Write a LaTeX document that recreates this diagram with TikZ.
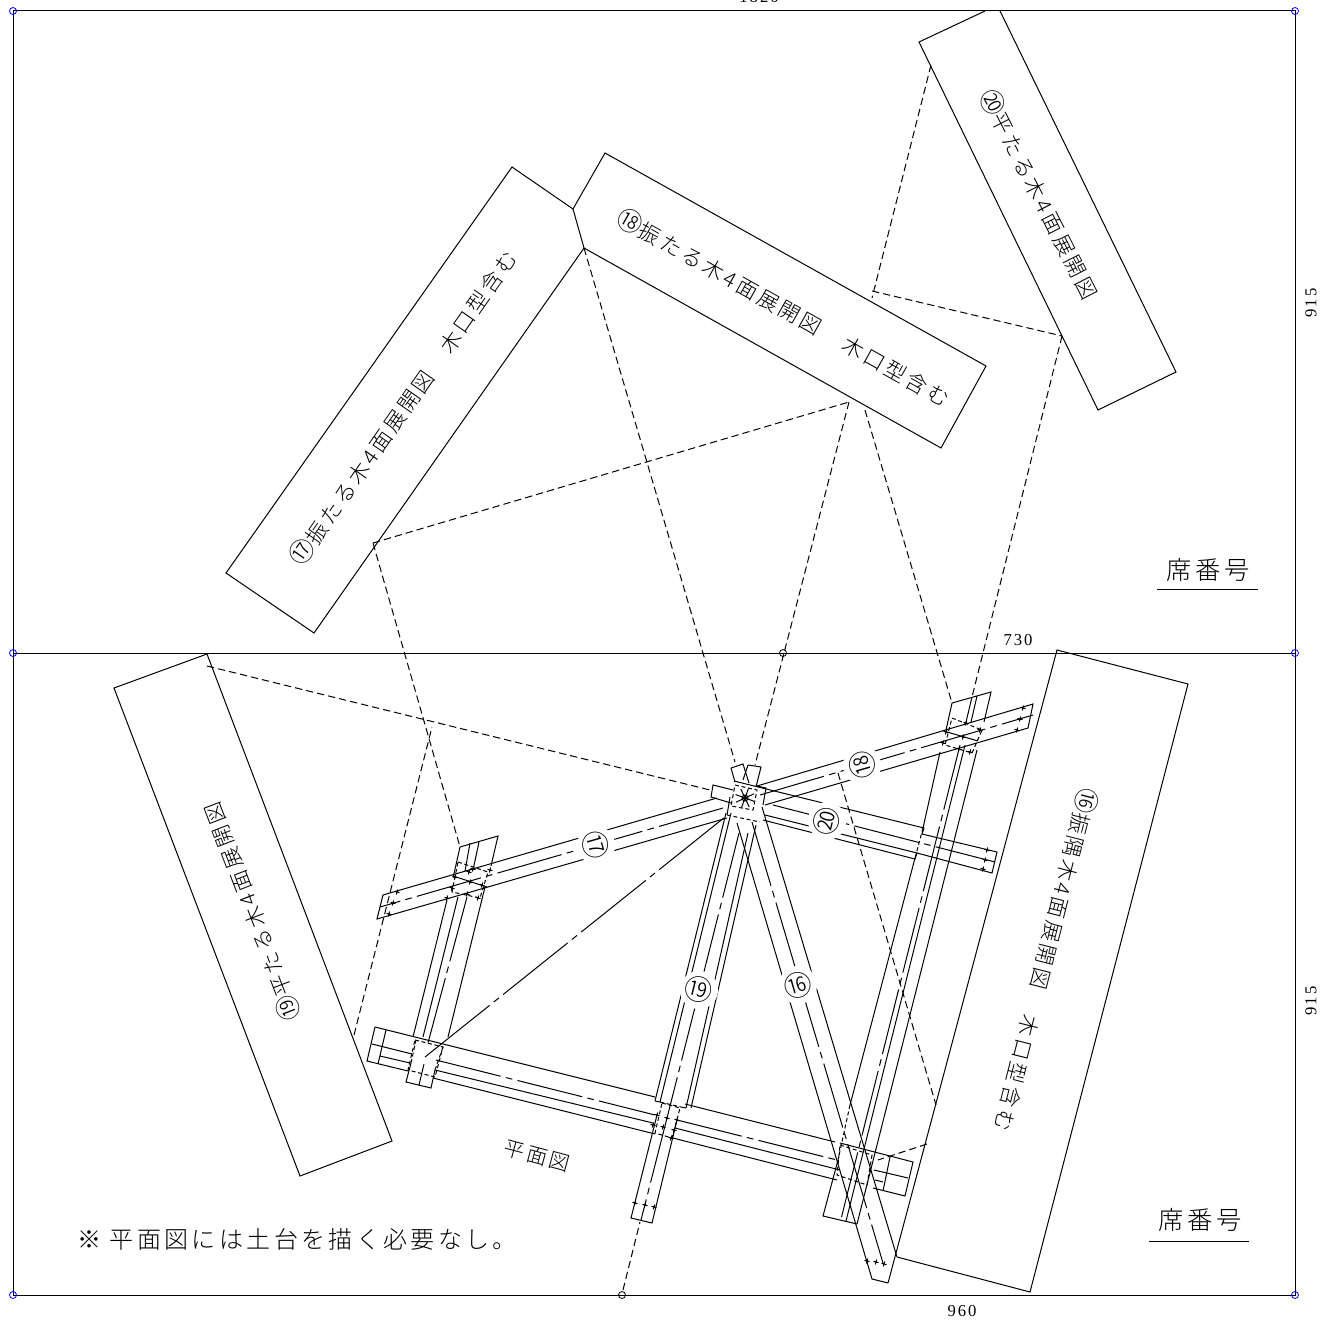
\documentclass[tikz,border=0pt]{standalone}
\usepackage{fontspec}
\newfontfamily\jpwide[LetterSpace=14]{Noto Sans CJK JP Light}
\newfontfamily\jpplain{Noto Sans CJK JP Light}
\newfontfamily\numfont[LetterSpace=12]{Liberation Serif}
\newcommand\cnum[1]{{\fontsize{19}{19}\selectfont #1}}
\tikzset{
 ln/.style={line width=.75pt,black},
 hid/.style={ln,dash pattern=on 3pt off 2pt},
 dd/.style={ln,dash pattern=on 5.5pt off 3pt},
 ctr/.style={ln,dash pattern=on 50pt off 4pt on 5pt off 4pt},
 panel/.style={ln,line join=miter},
 tag/.style={circle,fill=white,inner sep=0pt,minimum size=17pt,font=\jpplain\fontsize{21}{21}\selectfont},
 ptext/.style={inner sep=0pt,font=\jpwide\fontsize{16}{18}\selectfont},
 dim/.style={inner sep=0pt,font=\numfont\fontsize{12.5}{14}\selectfont},
 blue mark/.style={draw=blue,line width=.6pt,fill=none},
 blk mark/.style={draw=black,line width=.6pt,fill=none},
}
\begin{document}
\begin{tikzpicture}[x=.75pt,y=-.75pt]
\useasboundingbox (0,0) rectangle (1321,1323);
\clip (0,0) rectangle (1321,1323);
% frame
\draw[ln] (13,11) rectangle (1295,1295);
\draw[ln] (13,653) -- (1295,653);
\foreach \p in {(13,11),(1295,11),(13,653),(1295,653),(13,1295),(1295,1295)} \draw[blue mark] \p circle (3.5);
\draw[blk mark] (783,653) circle (3.5);
\draw[blk mark] (622,1295) circle (3.5);
% panels
\draw[panel] (985,11) -- (919,42) -- (1098,410) -- (1176,372) -- (1000,11);
\draw[panel] (573,209) -- (605,153) -- (986,366) -- (941,448) -- (584,248) -- cycle;
\draw[panel] (573,209) -- (512,167) -- (226,573) -- (314,633) -- (584,248);
\draw[panel] (114,688) -- (207,654) -- (392,1141) -- (300,1176) -- cycle;
\draw[panel] (888,1283) -- (1057,650) -- (1188,684) -- (1030,1292) -- (897,1257);
% dashed projection lines
\draw[dd] (931,65) -- (872,298);
\draw[dd] (872,291) -- (1062,336);
\draw[dd] (1062,336) -- (972,697);
\draw[dd] (865,410) -- (952,703);
\draw[dd] (849,402) -- (755,765);
\draw[dd] (584,248) -- (735,762);
\draw[dd] (373,543) -- (849,402);
\draw[dd] (373,543) -- (460,847);
\draw[dd] (207,666) -- (710,790);
\draw[dd] (354,1035) -- (432,727);
\draw[dd] (838,773) -- (936,1105);
\draw[dd] (927,1144) -- (878,1160);
\draw[dd] (623,1290) -- (640,1222);
\draw[ctr,dash pattern=on 62pt off 4pt on 5pt off 4pt] (425,1057) -- (725,817);
% beam 19
\draw[ln] (726,813) -- (655,1101);
\draw[ln] (731,813) -- (660,1102);
\draw[ctr] (739,833) -- (667,1118);
\draw[ln] (748,833) -- (686,1108);
\draw[ln] (756,825) -- (691,1108);
\draw[ln] (655,1101) -- (660,1102) (681,1107) -- (686,1108);
\draw[hid] (660,1102) -- (681,1107);
\draw[ln] (657,1115) -- (631,1218) -- (652,1223) -- (677,1120);
\draw[ctr] (667,1118) -- (641,1220);
% wall (front beam)
\draw[ln] (375,1027) -- (655,1097) (685,1104) -- (835,1142) (840,1143) -- (913,1162) -- (905,1196) -- (873,1188);
\draw[ln] (837,1180) -- (673,1138) (655,1134) -- (433,1078) (408,1071) -- (367,1061) -- (375,1027);
\draw[ln] (386,1030) -- (378,1064) (890,1157) -- (883,1191);
\draw[ln] (380,1056) -- (410,1063) (435,1070) -- (653,1123) (675,1128) -- (840,1170) (875,1180) -- (883,1182);
\draw[ctr] (372,1044) -- (412,1054);
\draw[ctr] (436,1060) -- (655,1115);
\draw[ctr] (677,1120) -- (837,1160);
\draw[ctr] (874,1170) -- (908,1178);
% beam A
\draw[ln] (453,878) -- (460,847) -- (498,836) -- (491,866);
\draw[ln] (470,843) -- (465,871) (479,842) -- (473,870);
\draw[ln] (447,900) -- (413,1037) (458,897) -- (423,1037) (485,887) -- (448,1037);
\draw[ctr] (467,897) -- (428,1043);
\draw[ln] (411,1063) -- (406,1082) -- (431,1088) -- (435,1070) (419,1085) -- (424,1064);
\draw[hid] (411,1063) -- (416,1040) (435,1070) -- (443,1047);
% beam 17
\draw[ln] (717,798) -- (383,895) -- (377,919) -- (727,818);
\draw[ctr] (723,808) -- (380,907);
% beam 18
\draw[ln] (757,786) -- (1033,704) -- (1028,728) -- (765,805);
\draw[ctr] (760,795) -- (1033,715);
% beam 20
\draw[ln] (734,781) -- (924,828) -- (922,834) -- (997,852) -- (992,873) -- (917,853) -- (915,859) -- (763,820);
\draw[ln] (765,815) -- (917,853);
\draw[ctr] (773,805) -- (995,862);
% beam B
\draw[ln] (946,730) -- (952,703) -- (991,692) -- (984,722);
\draw[ln] (972,697) -- (966,722) (977,696) -- (971,722);
\draw[ln] (940,752) -- (923,828) (915,858) -- (850,1105) (838,1160) -- (823,1216) -- (857,1224);
\draw[hid] (923,828) -- (915,858) (850,1105) -- (838,1160);
\draw[ln] (977,750) -- (857,1224);
\draw[ln] (965,745) -- (846,1221);
\draw[ctr] (960,745) -- (841,1219);
% beam 16
\draw[ln] (737,823) -- (872,1279) -- (888,1283);
\draw[ln] (762,807) -- (897,1257);
\draw[ctr] (752,822) -- (883,1263);
% centre joint
\draw[ln] (731,768) -- (743,764) -- (749,783) (731,768) -- (735,782);
\draw[ln] (748,765) -- (761,767) -- (756,787) (748,765) -- (743,780);
\draw[ln] (733,790) -- (713,785) -- (711,797) -- (731,803);
\draw[ln] (757,786) -- (766,788) -- (763,805);
\draw[ln] (730,797) -- (727,815);
\draw[hid] (727,815) -- (760,822);
\draw[ln] (745,798) circle (3);
\foreach \a in {20,65,110,155,200,245,290,335} \draw[ln] (745,798) -- ++(\a:10);
\draw[hid] (735,785) -- (757,790) -- (753,810) -- (731,806) -- cycle;
% hidden joints
\draw[hid] (458,862) -- (488,872) -- (480,898) -- (452,892) -- cycle;
\draw[hid] (952,718) -- (982,730) -- (972,753) -- (945,745) -- cycle;
\draw[hid] (415,1040) -- (443,1047) -- (435,1077) -- (408,1070) -- cycle;
\draw[hid] (662,1103) -- (680,1108) -- (672,1138) -- (655,1133) -- cycle;
\draw[hid] (840,1145) -- (872,1155) -- (867,1185) -- (837,1175) -- cycle;
\draw[ln] (453,876) -- (487,887);
\draw[ln] (947,732) -- (978,741);
% small crosses
\foreach \p in {(455,877),(452,888),(447,898),(470,882),(467,894),(482,885),(478,898),(469,872),(473,869),(490,870),
 (946,732),(943,743),(959,749),(963,737),(966,723),(980,730),(970,752),
 (657,1115),(653,1125),(667,1118),(663,1127),(677,1120),(674,1130),(671,1138),
 (397,892),(393,903),(389,914),(1023,708),(1020,719),(1017,730),(987,850),(985,860),(983,869),
 (635,1203),(645,1205),(654,1207),(867,1261),(876,1262),(884,1264)}
 \draw[ln] \p ++(-2.5,-.7) -- ++(5,1.4) \p ++(.7,-2.5) -- ++(-1.4,5);
% beam tags
\node[tag,rotate=-74] (t17) at (596,845) {⑰};
\node[tag,rotate=106] (t18) at (862,765) {⑱};
\node[tag,rotate=-14] (t19) at (699,990) {⑲};
\node[tag,rotate=76] (t20) at (827,821) {⑳};
\node[tag,rotate=16] (t16) at (798,985) {⑯};
% panel texts
\node[ptext,rotate=-63] (p20) at (1040,194) {\cnum{⑳}平たる木4面展開図};
\node[ptext,rotate=-29.3] (p18) at (784,307) {\cnum{⑱}振たる木4面展開図　木口型含む};
\node[ptext,rotate=55] (p17) at (403,407) {\cnum{⑰}振たる木4面展開図　木口型含む};
\node[ptext,rotate=111] (p19) at (251,912) {\cnum{⑲}平たる木4面展開図};
\node[ptext,rotate=-104.2] (p16) at (1047,960) {\cnum{⑯}振隅木4面展開図　木口型含む};
% labels
\node[ptext,font=\jpwide\fontsize{15.5}{18}\selectfont,rotate=-15] (plan) at (537,1156) {平面図};
\node[ptext,anchor=west,font=\jpwide\fontsize{18}{20}\selectfont] (note) at (77,1239) {※ 平面図には土台を描く必要なし。};
\node[ptext,font=\jpwide\fontsize{19}{21}\selectfont] (seat1) at (1208,570) {席番号};
\node[ptext,font=\jpwide\fontsize{19}{21}\selectfont] (seat2) at (1200,1220) {席番号};
\draw[ln] (1157,589) -- (1258,589);
\draw[ln] (1149,1241) -- (1249,1241);
% dimensions
\node[dim,rotate=90] (d1) at (1311,303) {915};
\node[dim,rotate=90] (d2) at (1311,1001) {915};
\node[dim] (d3) at (1018,640) {730};
\node[dim] (d4) at (962,1311) {960};
\node[dim] (d5) at (759,-3) {1820};
\end{tikzpicture}
\end{document}
